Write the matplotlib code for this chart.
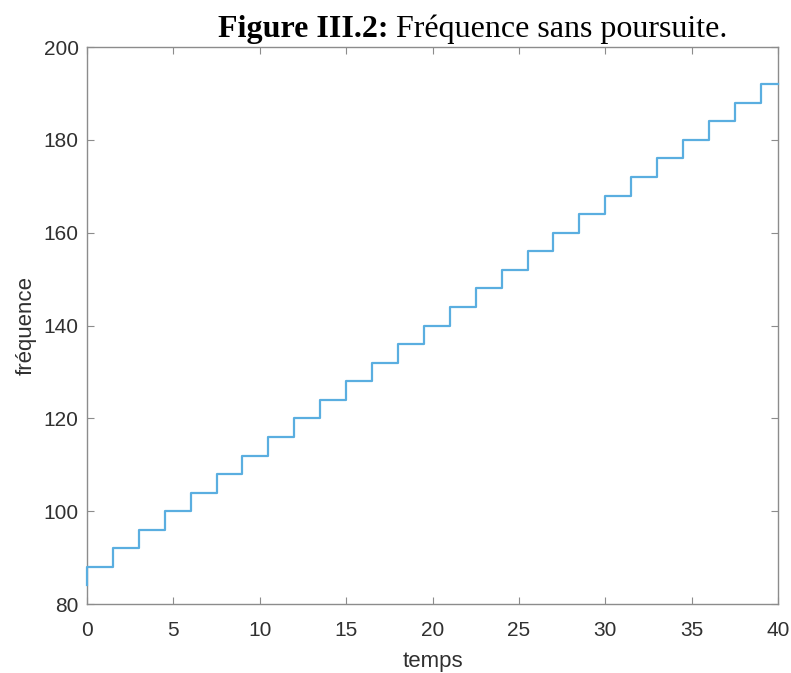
import matplotlib
matplotlib.use("Agg")
import matplotlib.pyplot as plt

# temps de chaque palier et fréquence correspondante
temps = [0, 0, 1.5, 3, 4.5, 6, 7.5, 9, 10.5, 12, 13.5, 15, 16.5, 18, 19.5,
         21, 22.5, 24, 25.5, 27, 28.5, 30, 31.5, 33, 34.5, 36, 37.5, 39, 40]
frequence = [84, 88, 92, 96, 100, 104, 108, 112, 116, 120, 124, 128, 132, 136, 140,
             144, 148, 152, 156, 160, 164, 168, 172, 176, 180, 184, 188, 192, 192]

x_ticks = [0, 5, 10, 15, 20, 25, 30, 35, 40]
y_ticks = [80, 100, 120, 140, 160, 180, 200]

plt.rcParams['font.family'] = ['Liberation Sans', 'DejaVu Sans']

fig = plt.figure(figsize=(7.91, 6.73), dpi=100)
ax = fig.add_axes([0.110, 0.1025, 0.8736, 0.8275])

ax.plot(temps, frequence, drawstyle='steps-post', color='#5aaee0', lw=1.6,
        zorder=5, clip_on=False)

ax.set_xlim(0, 40)
ax.set_ylim(80, 200)
ax.set_xticks(x_ticks)
ax.set_yticks(y_ticks)

gris = '#303030'
for s in ax.spines.values():
    s.set_color('#8c8c8c')
    s.set_linewidth(1.0)
ax.tick_params(direction='in', top=True, right=True, length=5,
               color='#8c8c8c', labelcolor=gris, labelsize=15)
ax.tick_params(axis='x', pad=12)
ax.tick_params(axis='y', pad=6)

ax.set_xlabel('temps', fontsize=16, color=gris, labelpad=8)
ax.set_ylabel('fréquence', fontsize=16, color=gris, labelpad=5)

# titre en Times : partie en gras puis texte normal
t1 = fig.text(218 / 791, 1 - 29 / 673, 'Figure III.2:', family='Liberation Serif',
              fontweight='bold', fontsize=23, va='center', ha='left', color='black')
fig.canvas.draw()
ax.annotate(' Fréquence sans poursuite.', xy=(1, 0.5), xycoords=t1,
            family='Liberation Serif', fontsize=23, va='center', ha='left',
            color='black')

fig.savefig('out.png', dpi=100)
